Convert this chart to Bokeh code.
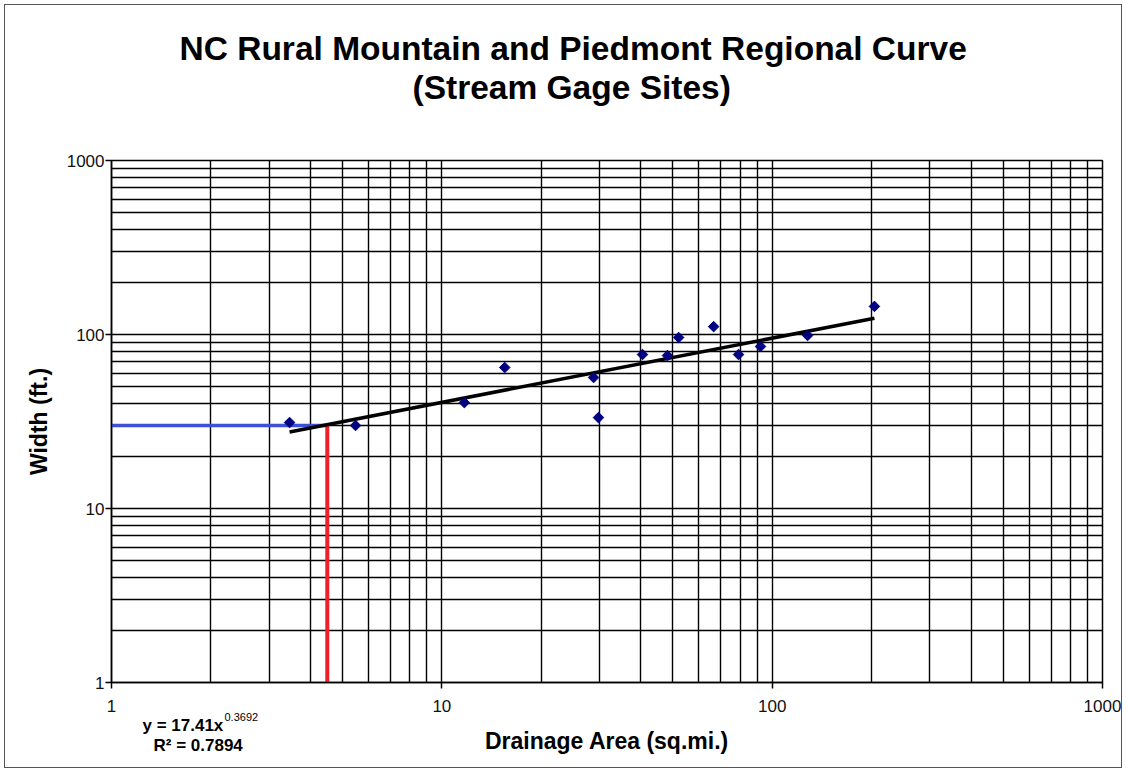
from bokeh.plotting import figure
from bokeh.models import Label, Title, FixedTicker, PrintfTickFormatter
from bokeh.embed import file_html
from bokeh.resources import INLINE

# ---- data ----
drainage_area = [3.46, 5.48, 11.7, 15.5, 28.8, 29.8, 40.5, 48.2, 52.1, 66.5, 79.1, 92.2, 128, 204]
bankfull_width = [31.2, 30.0, 40.6, 64.6, 56.6, 33.3, 76.7, 75.7, 96.1, 111, 76.7, 85.3, 98.7, 145]
fit_coef = 17.41
fit_expo = 0.3692
fit_r2 = 0.7894
design_area = 4.5
design_width = 30.0
major_ticks = [1, 10, 100, 1000]
minor_ticks = [m * 10 ** e for e in range(3) for m in range(2, 10)]

FONT = "Liberation Sans"

p = figure(width=1118, height=764, x_axis_type="log", y_axis_type="log",
           x_range=(1, 1000), y_range=(1, 1000),
           output_backend="svg", toolbar_location=None,
           min_border_left=106, min_border_right=21, min_border_top=155, min_border_bottom=87,
           styles={"border": "1px solid #555555", "margin-left": "4px", "margin-top": "4px"})

# equation labels: anchored at the frame's lower-left data corner (1, 1) with pixel offsets.
# They live in a side panel so that they are not clipped to the frame.
lab = dict(x=1, y=1, text_font=FONT, text_color="black",
           text_baseline="alphabetic", text_align="left")
p.add_layout(Label(text=f"y = {fit_coef}x", x_offset=31, y_offset=-43,
                   text_font_size="17px", text_font_style="bold", **lab), "above")
p.add_layout(Label(text=f"{fit_expo}", x_offset=113, y_offset=-34,
                   text_font_size="11px", **lab), "above")
p.add_layout(Label(text=f"R\u00b2 = {fit_r2}", x_offset=42, y_offset=-63,
                   text_font_size="17px", text_font_style="bold", **lab), "above")

# small spacer between the plot frame and the titles
p.add_layout(Title(text=" ", align="left", text_font=FONT, text_font_size="2px", standoff=5), "above")

title_style = dict(align="left", text_font=FONT, text_font_size="33.5px",
                   text_font_style="bold", text_color="black")
p.add_layout(Title(text="(Stream Gage Sites)", offset=301, standoff=0, **title_style), "above")
p.title.text = "NC Rural Mountain and Piedmont Regional Curve"
p.title.align = "left"
p.title.offset = 68
p.title.standoff = 0
p.title.text_font = FONT
p.title.text_font_size = "33.5px"
p.title.text_font_style = "bold"
p.title.text_color = "black"

p.outline_line_color = "black"
p.outline_line_width = 1.5
p.background_fill_color = "white"
p.border_fill_color = "white"

for ax in (p.xaxis[0], p.yaxis[0]):
    ax.ticker = FixedTicker(ticks=major_ticks, minor_ticks=minor_ticks)
    ax.formatter = PrintfTickFormatter(format="%d")
    ax.axis_line_color = "black"
    ax.axis_line_width = 1.5
    ax.major_tick_line_color = "black"
    ax.major_tick_line_width = 1.5
    ax.major_tick_in = 0
    ax.major_tick_out = 6
    ax.minor_tick_line_color = None
    ax.major_label_text_font = FONT
    ax.major_label_text_font_size = "17px"
    ax.major_label_text_color = "#111111"
    ax.axis_label_text_font = FONT
    ax.axis_label_text_font_size = "23px"
    ax.axis_label_text_font_style = "bold"
    ax.axis_label_text_color = "black"

p.xaxis.axis_label = "Drainage Area (sq.mi.)"
p.yaxis.axis_label = "Width (ft.)"
p.xaxis.major_label_standoff = 11
p.xaxis.axis_label_standoff = 13
p.yaxis.major_label_standoff = 1
p.yaxis.axis_label_standoff = 12

for g in (p.xgrid[0], p.ygrid[0]):
    g.grid_line_color = "black"
    g.grid_line_width = 1.4
    g.grid_line_alpha = 1
    g.minor_grid_line_color = "black"
    g.minor_grid_line_width = 1.4
    g.minor_grid_line_alpha = 1

# design lookup lines
p.line([1, design_area], [design_width, design_width], line_color="#3f50d8", line_width=3.5)
p.line([design_area, design_area], [1, design_width], line_color="#f0202a", line_width=4)

# power trend line over the data span
fx = [min(drainage_area), max(drainage_area)]
fy = [fit_coef * v ** fit_expo for v in fx]
p.line(fx, fy, line_color="black", line_width=3.5)

# data points
p.scatter(drainage_area, bankfull_width, marker="square", angle=0.785398, size=7.5,
          fill_color="#000080", line_color="#000080")

open("out.html", "w").write(file_html(p, INLINE))
